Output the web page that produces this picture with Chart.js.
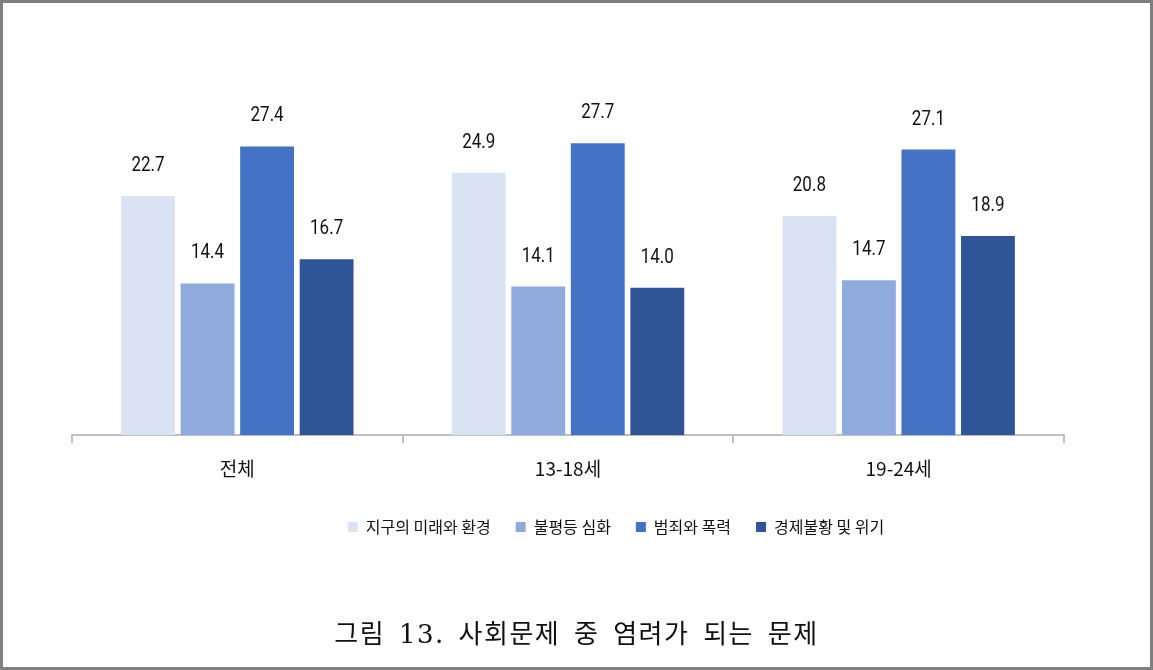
<!DOCTYPE html>
<html>
<head>
<meta charset="utf-8">
<script src="https://cdn.jsdelivr.net/npm/chart.js@4"></script>
<style>
html,body{margin:0;padding:0;background:#fff;}
#wrap{width:1153px;height:670px;box-sizing:border-box;border:3px solid #7f7f7f;position:relative;background:#fff;}
canvas{display:block;}
#title{position:absolute;left:0;right:0;top:614px;height:34px;line-height:34px;text-align:center;
  font-family:'DejaVu Serif','Noto Sans CJK KR',serif;font-size:26px;letter-spacing:1.5px;color:#111;word-spacing:4px;}
</style>
</head>
<body>
<div id="wrap"><canvas id="c" width="1147" height="664"></canvas><div id="title"></div></div>
<script>
const categories = ['전체', '13-18세', '19-24세'];
const seriesNames = ['지구의 미래와 환경', '불평등 심화', '범죄와 폭력', '경제불황 및 위기'];
const futureEnv = [22.7, 24.9, 20.8];
const inequality = [14.4, 14.1, 14.7];
const crime = [27.4, 27.7, 27.1];
const economy = [16.7, 14.0, 18.9];
const colors = ['#dae3f3', '#8faadc', '#4472c4', '#2f5597'];
const titleText = '그림 13. 사회문제 중 염려가 되는 문제';

document.getElementById('title').textContent = titleText;

const FONT = "'Noto Sans CJK KR', sans-serif";

const valueLabels = {
  id: 'valueLabels',
  afterDatasetsDraw(chart) {
    const ctx = chart.ctx;
    ctx.save();
    ctx.font = "20px Roboto, sans-serif";
    ctx.fillStyle = '#111';
    ctx.textAlign = 'center';
    ctx.textBaseline = 'bottom';
    const sx = 0.85;
    chart.data.datasets.forEach((ds, i) => {
      const meta = chart.getDatasetMeta(i);
      meta.data.forEach((bar, j) => {
        ctx.save();
        ctx.translate(bar.x, bar.y - 20);
        ctx.scale(sx, 1);
        ctx.fillText(ds.data[j].toFixed(1), 0, 0);
        ctx.restore();
      });
    });
    ctx.restore();
  }
};

const legendShift = {
  id: 'legendShift',
  afterLayout(chart) {
    if (chart.legend) {
      chart.legend.left += 48;
      chart.legend.right += 48;
    }
  }
};

const allSeries = [futureEnv, inequality, crime, economy];
new Chart(document.getElementById('c'), {
  type: 'bar',
  data: {
    labels: categories,
    datasets: allSeries.map((d, i) => ({
      label: seriesNames[i],
      data: d,
      backgroundColor: colors[i],
      borderWidth: 0,
      categoryPercentage: 0.72,
      barPercentage: 0.905
    }))
  },
  options: {
    responsive: false,
    animation: false,
    layout: { padding: { left: 69, right: 86, top: 116, bottom: 122 } },
    scales: {
      x: {
        grid: { offset: true, drawOnChartArea: false, drawTicks: true, tickLength: 8, color: '#bfbfbf', lineWidth: 2 },
        border: { display: true, color: '#bfbfbf', width: 2 },
        ticks: { color: '#111', font: { family: FONT, size: 19 }, padding: 14 }
      },
      y: { display: false, min: 0, max: 30 }
    },
    plugins: {
      legend: {
        position: 'bottom',
        labels: {
          boxWidth: 10, boxHeight: 10, padding: 25, color: '#111',
          font: { family: FONT, size: 16 }
        }
      },
      title: { display: false },
      tooltip: { enabled: false }
    }
  },
  plugins: [valueLabels, legendShift]
});
</script>
</body>
</html>
